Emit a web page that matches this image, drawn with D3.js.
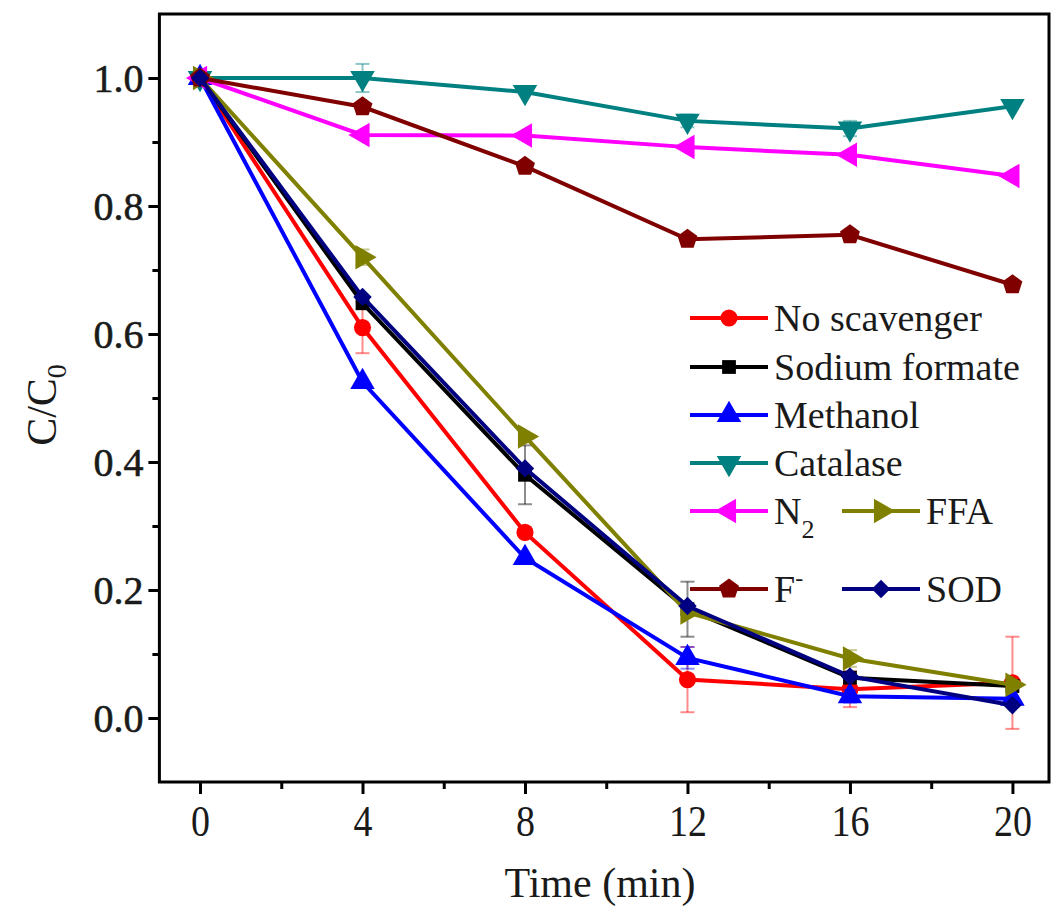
<!DOCTYPE html>
<html>
<head>
<meta charset="utf-8">
<script src="https://cdn.jsdelivr.net/npm/d3@7"></script>
<style>
  body { margin: 0; background: #fff; }
  text { font-family: "Liberation Serif", "Times New Roman", serif; }
</style>
</head>
<body>
<svg id="chart" width="1052" height="910"></svg>
<script>
// 数据
var times = [0, 4, 8, 12, 16, 20];
var xTicks = [0, 4, 8, 12, 16, 20];
var yTicks = [0.0, 0.2, 0.4, 0.6, 0.8, 1.0];

var noScavenger   = [1.0, 0.61, 0.29, 0.06, 0.045, 0.055];
var sodiumFormate = [1.0, 0.648, 0.38, 0.17, 0.063, 0.05];
var methanol      = [1.0, 0.525, 0.25, 0.094, 0.034, 0.03];
var catalase      = [1.0, 1.0, 0.978, 0.933, 0.921, 0.956];
var n2            = [1.0, 0.911, 0.91, 0.892, 0.88, 0.847];
var ffa           = [1.0, 0.72, 0.44, 0.165, 0.093, 0.052];
var fMinus        = [1.0, 0.955, 0.862, 0.748, 0.755, 0.677];
var sod           = [1.0, 0.658, 0.39, 0.175, 0.065, 0.02];

// 误差
var errNoScavenger   = [0, 0.04, 0, 0.051, 0.028, 0.072];
var errSodiumFormate = [0, 0, 0.046, 0.043, 0, 0];
var errMethanol      = [0, 0, 0, 0.017, 0.01, 0];
var errCatalase      = [0, 0.022, 0, 0.01, 0.012, 0];
var errFfa           = [0, 0.012, 0, 0, 0.013, 0];

var svg = d3.select("#chart");

// 画布边界 (注意: 不能用 top 这个名字, 会和 window.top 冲突)
var mLeft = 159.4, mRight = 1049, mTop = 14, mBottom = 782;

var x = d3.scaleLinear().domain([-1, 20.9]).range([mLeft, mRight]);
var y = d3.scaleLinear().domain([-0.1, 1.1]).range([mBottom, mTop]);

// 五边形
var pentagon = {
  draw: function(context, size) {
    var r = Math.sqrt(size / 2.378);
    for (var i = 0; i < 5; i++) {
      var a = -Math.PI / 2 + i * 2 * Math.PI / 5;
      var px = r * Math.cos(a), py = r * Math.sin(a);
      if (i === 0) context.moveTo(px, py); else context.lineTo(px, py);
    }
    context.closePath();
  }
};

var series = [
  {name: "No scavenger", values: noScavenger, err: errNoScavenger, color: "#ff0000", type: d3.symbolCircle, size: 230, rot: 0},
  {name: "Sodium formate", values: sodiumFormate, err: errSodiumFormate, color: "#000000", type: d3.symbolSquare, size: 190, rot: 0},
  {name: "Methanol", values: methanol, err: errMethanol, color: "#0000ff", type: d3.symbolTriangle, size: 260, rot: 0},
  {name: "Catalase", values: catalase, err: errCatalase, color: "#008080", type: d3.symbolTriangle, size: 260, rot: 180},
  {name: "N2", values: n2, err: null, color: "#ff00ff", type: d3.symbolTriangle, size: 260, rot: -90},
  {name: "FFA", values: ffa, err: errFfa, color: "#808000", type: d3.symbolTriangle, size: 260, rot: 90},
  {name: "F-", values: fMinus, err: null, color: "#800000", type: pentagon, size: 260, rot: 0},
  {name: "SOD", values: sod, err: null, color: "#000080", type: d3.symbolSquare, size: 170, rot: 45}
];

var line = d3.line()
  .x(function(d) { return x(d.t); })
  .y(function(d) { return y(d.v); });

var plot = svg.append("g");

series.forEach(function(s) {
  var pts = times.map(function(t, i) { return {t: t, v: s.values[i], e: s.err ? s.err[i] : 0}; });
  var g = plot.append("g");

  // 误差棒
  var eb = pts.filter(function(d) { return d.e > 0; });
  var ebg = g.selectAll(".eb").data(eb).enter().append("g")
    .attr("stroke", s.color).attr("stroke-opacity", 0.45).attr("stroke-width", 2);
  ebg.append("line")
    .attr("x1", function(d) { return x(d.t); }).attr("x2", function(d) { return x(d.t); })
    .attr("y1", function(d) { return y(d.v - d.e); }).attr("y2", function(d) { return y(d.v + d.e); });
  ebg.append("line")
    .attr("x1", function(d) { return x(d.t) - 7; }).attr("x2", function(d) { return x(d.t) + 7; })
    .attr("y1", function(d) { return y(d.v - d.e); }).attr("y2", function(d) { return y(d.v - d.e); });
  ebg.append("line")
    .attr("x1", function(d) { return x(d.t) - 7; }).attr("x2", function(d) { return x(d.t) + 7; })
    .attr("y1", function(d) { return y(d.v + d.e); }).attr("y2", function(d) { return y(d.v + d.e); });

  g.append("path")
    .datum(pts)
    .attr("d", line)
    .attr("fill", "none")
    .attr("stroke", s.color)
    .attr("stroke-width", 4);

  g.selectAll(".pt").data(pts).enter().append("path")
    .attr("d", d3.symbol().type(s.type).size(s.size))
    .attr("transform", function(d) { return "translate(" + x(d.t) + "," + y(d.v) + ") rotate(" + s.rot + ")"; })
    .attr("fill", s.color);
});

// 坐标轴
var xAxis = svg.append("g").attr("transform", "translate(0," + mBottom + ")")
  .call(d3.axisBottom(x).tickValues(xTicks).tickSize(12).tickFormat(d3.format("d")));
svg.append("g").attr("transform", "translate(0," + mBottom + ")")
  .call(d3.axisBottom(x).tickValues([2, 6, 10, 14, 18]).tickSize(7).tickFormat(""));

var yAxis = svg.append("g").attr("transform", "translate(" + mLeft + ",0)")
  .call(d3.axisLeft(y).tickValues(yTicks).tickSize(11).tickFormat(d3.format(".1f")));
svg.append("g").attr("transform", "translate(" + mLeft + ",0)")
  .call(d3.axisLeft(y).tickValues([0.1, 0.3, 0.5, 0.7, 0.9]).tickSize(7).tickFormat(""));

svg.selectAll(".domain").remove();
svg.selectAll(".tick line").attr("stroke", "#000").attr("stroke-width", 3);

// x 轴刻度文字在原图里偏高偏窄
var stretch = 1.15;
xAxis.selectAll(".tick text")
  .attr("font-size", 38).attr("dy", 0)
  .attr("y", 54 / stretch)
  .attr("transform", "scale(1," + stretch + ")")
  .attr("font-family", "Liberation Serif").attr("fill", "#1a1a1a");
yAxis.selectAll(".tick text")
  .attr("font-size", 40).attr("x", -16).attr("dy", "0.34em")
  .attr("font-family", "Liberation Serif").attr("fill", "#1a1a1a")
  .attr("stroke", "#1a1a1a").attr("stroke-width", 0.6);

// 边框
svg.append("rect")
  .attr("x", mLeft).attr("y", mTop)
  .attr("width", mRight - mLeft).attr("height", mBottom - mTop)
  .attr("fill", "none").attr("stroke", "#000").attr("stroke-width", 3);

// 轴标题
svg.append("text")
  .attr("x", 600).attr("y", 897)
  .attr("text-anchor", "middle")
  .attr("font-size", 42).attr("fill", "#1a1a1a")
  .text("Time (min)");

var yt = svg.append("text")
  .attr("transform", "translate(56,405) rotate(-90)")
  .attr("text-anchor", "middle")
  .attr("font-size", 42).attr("fill", "#1a1a1a");
yt.append("tspan").text("C/C");
yt.append("tspan").attr("font-size", 28).attr("dy", 10).text("0");

// 图例
var legendRows = [
  {s: 0, lx: 690, ly: 318},
  {s: 1, lx: 690, ly: 367},
  {s: 2, lx: 690, ly: 415},
  {s: 3, lx: 690, ly: 463},
  {s: 4, lx: 690, ly: 511},
  {s: 5, lx: 842, ly: 511},
  {s: 6, lx: 690, ly: 589},
  {s: 7, lx: 842, ly: 589}
];

var lg = svg.append("g");
legendRows.forEach(function(r) {
  var s = series[r.s];
  lg.append("line")
    .attr("x1", r.lx).attr("x2", r.lx + 78)
    .attr("y1", r.ly).attr("y2", r.ly)
    .attr("stroke", s.color).attr("stroke-width", 4);
  lg.append("path")
    .attr("d", d3.symbol().type(s.type).size(s.size))
    .attr("transform", "translate(" + (r.lx + 39) + "," + r.ly + ") rotate(" + s.rot + ")")
    .attr("fill", s.color);
  var t = lg.append("text")
    .attr("x", r.lx + 84).attr("y", r.ly + 13)
    .attr("font-size", 38).attr("fill", "#1a1a1a");
  if (s.name === "N2") {
    t.append("tspan").text("N");
    t.append("tspan").attr("font-size", 26).attr("dy", 14).text("2");
  } else if (s.name === "F-") {
    t.append("tspan").text("F");
    t.append("tspan").attr("font-size", 24).attr("dy", -16).text("-");
  } else {
    t.text(s.name);
  }
});
</script>
</body>
</html>
